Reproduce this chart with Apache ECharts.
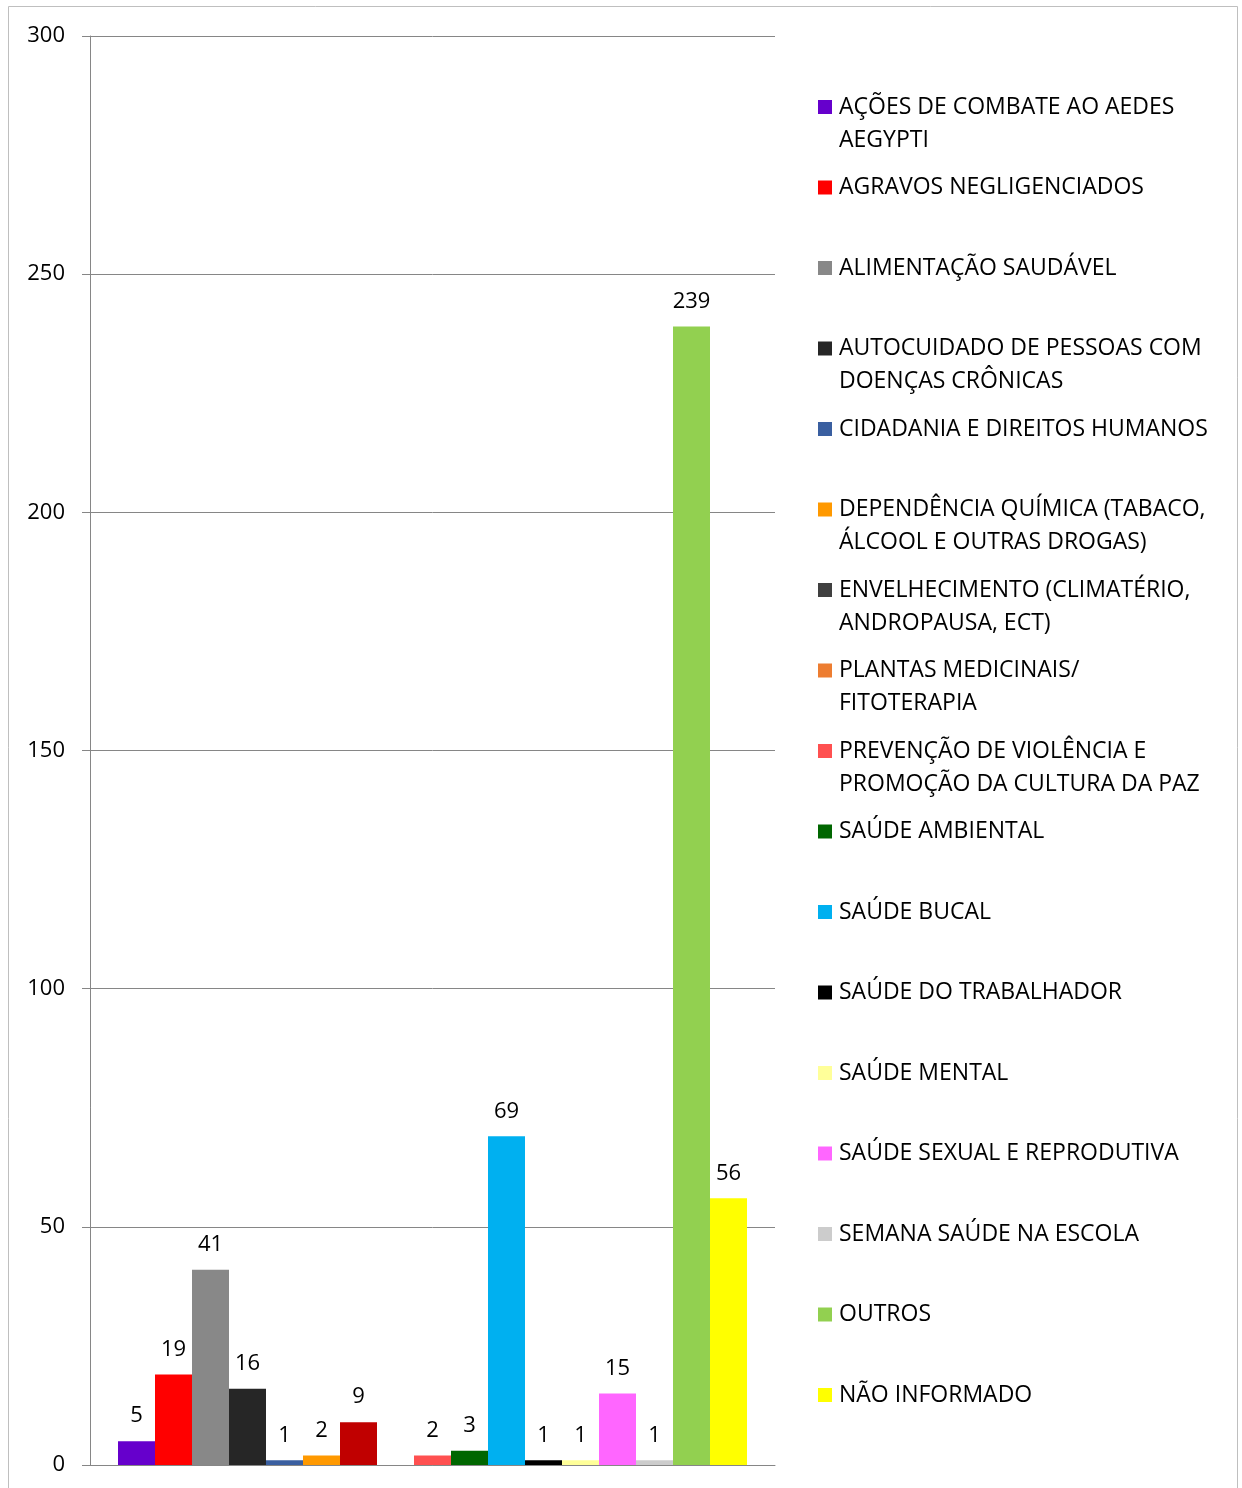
<!DOCTYPE html>
<html>
<head>
<meta charset="utf-8">
<script src="https://cdn.jsdelivr.net/npm/echarts@6/dist/echarts.min.js"></script>
<style>
  html, body { margin: 0; padding: 0; background: #fff; }
  #chart { width: 1242px; height: 1488px; }
</style>
</head>
<body>
<div id="chart"></div>
<script>
// Temas das ações educativas e número de registros
const temas = [
  'AÇÕES DE COMBATE AO AEDES AEGYPTI',
  'AGRAVOS NEGLIGENCIADOS',
  'ALIMENTAÇÃO SAUDÁVEL',
  'AUTOCUIDADO DE PESSOAS COM DOENÇAS CRÔNICAS',
  'CIDADANIA E DIREITOS HUMANOS',
  'DEPENDÊNCIA QUÍMICA (TABACO, ÁLCOOL E OUTRAS DROGAS)',
  'ENVELHECIMENTO (CLIMATÉRIO, ANDROPAUSA, ECT)',
  'PLANTAS MEDICINAIS/ FITOTERAPIA',
  'PREVENÇÃO DE VIOLÊNCIA E PROMOÇÃO DA CULTURA DA PAZ',
  'SAÚDE AMBIENTAL',
  'SAÚDE BUCAL',
  'SAÚDE DO TRABALHADOR',
  'SAÚDE MENTAL',
  'SAÚDE SEXUAL E REPRODUTIVA',
  'SEMANA SAÚDE NA ESCOLA',
  'OUTROS',
  'NÃO INFORMADO'
];

// Rótulos da legenda com quebra de linha
const rotulos = [
  'AÇÕES DE COMBATE AO AEDES\nAEGYPTI',
  'AGRAVOS NEGLIGENCIADOS',
  'ALIMENTAÇÃO SAUDÁVEL',
  'AUTOCUIDADO DE PESSOAS COM\nDOENÇAS CRÔNICAS',
  'CIDADANIA E DIREITOS HUMANOS',
  'DEPENDÊNCIA QUÍMICA (TABACO,\nÁLCOOL E OUTRAS DROGAS)',
  'ENVELHECIMENTO (CLIMATÉRIO,\nANDROPAUSA, ECT)',
  'PLANTAS MEDICINAIS/\nFITOTERAPIA',
  'PREVENÇÃO DE VIOLÊNCIA E\nPROMOÇÃO DA CULTURA DA PAZ',
  'SAÚDE AMBIENTAL',
  'SAÚDE BUCAL',
  'SAÚDE DO TRABALHADOR',
  'SAÚDE MENTAL',
  'SAÚDE SEXUAL E REPRODUTIVA',
  'SEMANA SAÚDE NA ESCOLA',
  'OUTROS',
  'NÃO INFORMADO'
];

// null = sem registro (coluna vazia)
const valores = [5, 19, 41, 16, 1, 2, 9, null, 2, 3, 69, 1, 1, 15, 1, 239, 56];

const cores = [
  '#6600CC', '#FF0000', '#888888', '#262626', '#3A5FA0', '#FF9900',
  '#404040', '#ED7D31', '#FF5050', '#006600', '#00B0F0', '#000000',
  '#FFFF99', '#FF66FF', '#CCCCCC', '#92D050', '#FFFF00'
];

// A coluna de "Envelhecimento" aparece em vermelho escuro
const coresBarra = cores.slice();
coresBarra[6] = '#C00000';

const eixoY = { min: 0, max: 300, interval: 50 };

const FONTE = '"Open Sans", "Liberation Sans", sans-serif';

const chart = echarts.init(document.getElementById('chart'), null, { renderer: 'canvas' });

const series = temas.map((nome, i) => ({
  name: nome,
  type: 'bar',
  barWidth: 37,
  barGap: '0%',
  color: cores[i],
  data: [{ value: valores[i], itemStyle: { color: coresBarra[i] } }],
  label: {
    show: true,
    position: 'top',
    distance: 14,
    color: '#000',
    fontSize: 22,
    fontFamily: FONTE
  },
  emphasis: { disabled: true }
}));

// Uma legenda por tema, empilhadas em passos iguais; nos rótulos de duas
// linhas, uma linha vazia acima mantém o marcador alinhado à primeira linha
const legends = temas.map((nome, i) => {
  const duasLinhas = rotulos[i].indexOf('\n') >= 0;
  const centro = 107 + i * 80.5;
  return {
    orient: 'vertical',
    left: 818,
    top: centro - (duasLinhas ? 49.5 : 16.5),
    padding: 0,
    icon: 'rect',
    itemWidth: 14,
    itemHeight: 14,
    selectedMode: false,
    data: [nome],
    formatter: () => (duasLinhas ? '\n' : '') + rotulos[i],
    textStyle: {
      color: '#000',
      fontSize: 23,
      lineHeight: 33,
      fontFamily: FONTE,
      padding: [0, 0, 0, 2]
    }
  };
});

chart.setOption({
  animation: false,
  backgroundColor: '#fff',
  textStyle: { fontFamily: FONTE },
  grid: { left: 90, top: 36, right: 467, bottom: 23, containLabel: false },
  graphic: [{
    type: 'rect',
    shape: { x: 8.5, y: 6.5, width: 1229, height: 1500 },
    style: { fill: 'none', stroke: '#BFBFBF', lineWidth: 1 },
    silent: true,
    z: -10
  }],
  legend: legends,
  xAxis: {
    type: 'category',
    data: [''],
    axisLine: { show: true, lineStyle: { color: '#868686', width: 1 } },
    axisTick: { show: false },
    axisLabel: { show: false },
    splitLine: { show: false }
  },
  yAxis: {
    type: 'value',
    min: eixoY.min,
    max: eixoY.max,
    interval: eixoY.interval,
    axisLine: { show: true, lineStyle: { color: '#868686', width: 1 } },
    axisTick: { show: true, length: 8, lineStyle: { color: '#868686' } },
    axisLabel: { color: '#000', fontSize: 22, margin: 25, fontFamily: FONTE },
    splitLine: { show: true, lineStyle: { color: '#868686', width: 1 } }
  },
  series: series
});
</script>
</body>
</html>
